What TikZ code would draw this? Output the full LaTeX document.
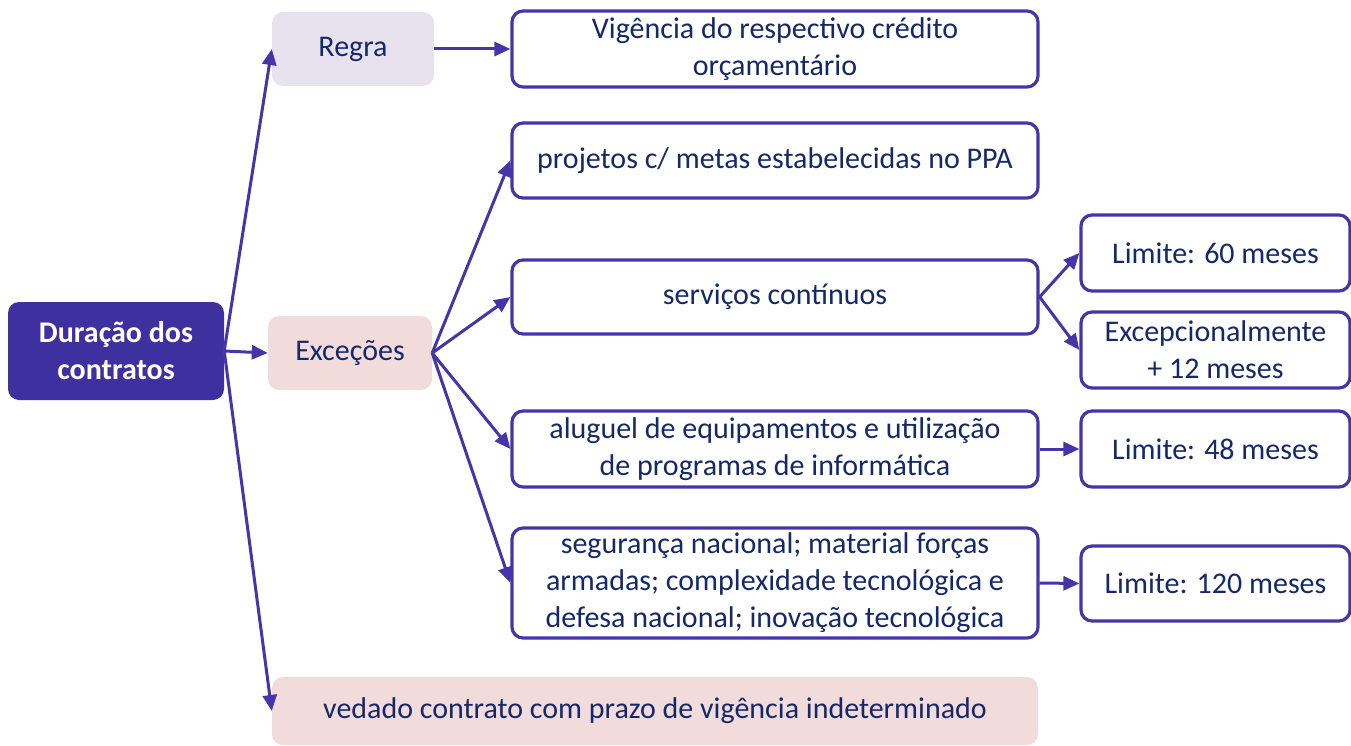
\documentclass[tikz,border=0pt]{standalone}
\usepackage{fontspec}
\setmainfont{Carlito}
\usetikzlibrary{arrows.meta}
\definecolor{navy}{HTML}{14286A}
\definecolor{lineP}{HTML}{4535A8}
\definecolor{rootF}{HTML}{3F30A0}
\definecolor{lav}{HTML}{E8E2EF}
\definecolor{pinkF}{HTML}{F2DCDB}
\tikzset{
  base/.style={inner sep=0pt, align=center, font=\fontsize{30}{37}\selectfont, text=navy, rounded corners=11pt},
  rootbox/.style={base, fill=rootF, text=white, font=\fontsize{30}{37}\selectfont\bfseries},
  lavbox/.style={base, fill=lav},
  pinkbox/.style={base, fill=pinkF},
  whitebox/.style={base, draw=lineP, line width=3.2pt, fill=white},
  conn/.style={draw=lineP, line width=3pt, -{Triangle[length=16pt,width=14pt]}}
}
\begin{document}
\begin{tikzpicture}[x=1pt,y=-1pt]
\useasboundingbox (0,0) rectangle (1351,746);
\node[rootbox, minimum width=216pt, minimum height=98pt] (root) at (116,351) {Duração dos\\contratos};
\node[lavbox, minimum width=162pt, minimum height=74pt] (regra) at (353,49) {Regra};
\node[whitebox, minimum width=526pt, minimum height=76pt] (vig) at (775,49) {Vigência do respectivo crédito\\orçamentário};
\node[pinkbox, minimum width=164pt, minimum height=74pt] (exc) at (350,353) {Exceções};
\node[whitebox, minimum width=526pt, minimum height=75pt] (proj) at (775,160.5) {projetos c/ metas estabelecidas no PPA};
\node[whitebox, minimum width=526pt, minimum height=74pt] (serv) at (775,297) {serviços contínuos};
\node[whitebox, minimum width=269pt, minimum height=76pt] (l60) at (1215.5,253) {Limite: 60 meses};
\node[whitebox, minimum width=269pt, minimum height=76pt] (ex12) at (1215.5,350) {Excepcionalmente\\+ 12 meses};
\node[whitebox, minimum width=526pt, minimum height=76pt] (alug) at (775,449) {aluguel de equipamentos e utilização\\de programas de informática};
\node[whitebox, minimum width=269pt, minimum height=76pt] (l48) at (1215.5,449) {Limite: 48 meses};
\node[whitebox, minimum width=526pt, minimum height=110pt] (seg) at (775,583) {segurança nacional; material forças\\armadas; complexidade tecnológica e\\defesa nacional; inovação tecnológica};
\node[whitebox, minimum width=269pt, minimum height=75pt] (l120) at (1215.5,583.5) {Limite: 120 meses};
\node[pinkbox, minimum width=766pt, minimum height=68pt] (ved) at (655,711) {vedado contrato com prazo de vigência indeterminado};
\draw[conn] (root.east) -- (regra.west);
\draw[conn] (root.east) -- (exc.west);
\draw[conn] (root.east) -- (ved.west);
\draw[conn] (regra.east) -- (vig.west);
\draw[conn] (exc.east) -- (proj.west);
\draw[conn] (exc.east) -- (serv.west);
\draw[conn] (exc.east) -- (alug.west);
\draw[conn] (exc.east) -- (seg.west);
\draw[conn] (serv.east) -- (l60.west);
\draw[conn] (serv.east) -- (ex12.west);
\draw[conn] (alug.east) -- (l48.west);
\draw[conn] (seg.east) -- (l120.west);
\end{tikzpicture}
\end{document}
